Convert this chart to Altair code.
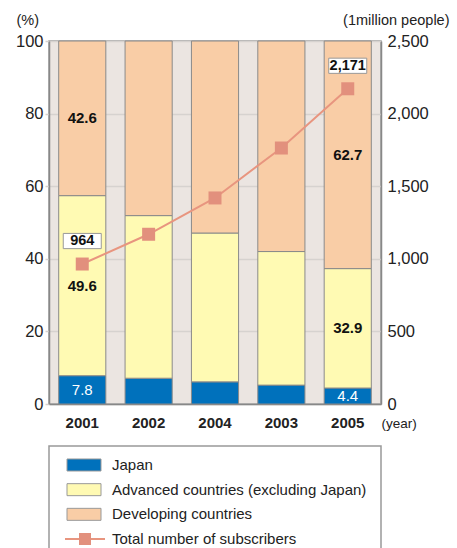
import altair as alt
import pandas as pd

years = ["2001", "2002", "2004", "2003", "2005"]
categories = ["Japan", "Advanced countries (excluding Japan)", "Developing countries"]
japan = [7.8, 7.1, 6.1, 5.2, 4.4]
advanced = [49.6, 44.8, 41.0, 36.8, 32.9]
developing = [42.6, 48.1, 52.9, 58.0, 62.7]
subscribers = [964, 1169, 1419, 1763, 2171]
labeled_years = ["2001", "2005"]
legend_items = categories + ["Total number of subscribers"]
legend_kinds = ["rect", "rect", "rect", "line"]

colors = ["#0071bc", "#fffab3", "#f9cda6"]
line_color = "#e8957f"
marker_color = "#e2907d"
FONT = "Liberation Sans"
W, H = 332, 363

rows = []
for i, yr in enumerate(years):
    for k, (cat, vals) in enumerate(zip(categories, [japan, advanced, developing])):
        rows.append({"year": yr, "category": cat, "value": vals[i], "order": k,
                     "show": yr in labeled_years})
bars_df = pd.DataFrame(rows)
line_df = pd.DataFrame({"year": years, "subscribers": subscribers,
                        "show": [y in labeled_years for y in years]})
leg_df = pd.DataFrame({"item": legend_items, "kind": legend_kinds})

xenc = alt.X("year:N", sort=years,
             scale=alt.Scale(paddingInner=0.29, paddingOuter=0.146),
             axis=alt.Axis(title="(year)", titleX=332, titleY=19, titleAlign="left",
                           titleBaseline="middle", titleAngle=0, titleFontWeight="normal",
                           titleFontSize=13.5, labelAngle=0, labelFontWeight="bold",
                           labelFontSize=15, labelPadding=11, ticks=False,
                           domainColor="#888888", domainWidth=1.5,
                           labelColor="#222222", titleColor="#222222"))

yleft_axis = alt.Axis(values=[0, 20, 40, 60, 80, 100], grid=True, gridColor="#d6d2cf",
                      gridWidth=1.5, tickColor="#d6d2cf", tickSize=4, tickWidth=1.5,
                      labelPadding=2, labelFontSize=16.5, labelColor="#222222",
                      domainColor="#888888", domainWidth=1.5,
                      title="(%)", titleX=-33, titleY=-21, titleAlign="left",
                      titleAngle=0, titleBaseline="middle", titleFontWeight="normal",
                      titleFontSize=14.5, titleColor="#222222")

bars = alt.Chart(bars_df).mark_bar(stroke="#8a8a8a", strokeWidth=1).encode(
    x=xenc,
    y=alt.Y("value:Q", stack="zero", scale=alt.Scale(domain=[0, 100]), axis=yleft_axis),
    color=alt.Color("category:N", scale=alt.Scale(domain=categories, range=colors), legend=None),
    order=alt.Order("order:Q"),
)

stacked = alt.Chart(bars_df).transform_stack(
    stack="value", groupby=["year"], as_=["y0", "y1"], sort=[alt.SortField("order")]
).transform_calculate(mid="(datum.y0 + datum.y1) / 2").transform_filter("datum.show")

text_white = stacked.transform_filter("datum.order == 0").mark_text(
    font=FONT, fontSize=15, color="white").encode(
    x=alt.X("year:N", sort=years), y=alt.Y("mid:Q"), text=alt.Text("value:Q", format=".1f"))
text_black = stacked.transform_filter("datum.order > 0").mark_text(
    font=FONT, fontSize=15, fontWeight="bold", color="#111111").encode(
    x=alt.X("year:N", sort=years), y=alt.Y("mid:Q"), text=alt.Text("value:Q", format=".1f"))

left = alt.layer(bars, text_white, text_black)

yright = alt.Y("subscribers:Q", scale=alt.Scale(domain=[0, 2500]),
               axis=alt.Axis(orient="right", values=[0, 500, 1000, 1500, 2000, 2500],
                             format=",.0f", formatType="number", grid=False, ticks=False,
                             labelPadding=6,
                             labelFontSize=16.5, labelColor="#222222",
                             domainColor="#888888", domainWidth=1.5,
                             title="(1million people)", titleX=68, titleY=-21,
                             titleAlign="right", titleAngle=0, titleBaseline="middle",
                             titleFontWeight="normal", titleFontSize=14.5,
                             titleColor="#222222"))

line = alt.Chart(line_df).mark_line(color=line_color, strokeWidth=2).encode(
    x=alt.X("year:N", sort=years), y=yright)
squares = alt.Chart(line_df).mark_square(size=169, color=marker_color, opacity=1).encode(
    x=alt.X("year:N", sort=years), y=yright)
boxes = alt.Chart(line_df).transform_filter("datum.show").mark_point(
    shape="M-1,-0.4H1V0.4H-1Z", size=1444, filled=True, fill="white",
    stroke="#999999", strokeWidth=1, opacity=1, yOffset=-23).encode(
    x=alt.X("year:N", sort=years), y=yright)
box_text = alt.Chart(line_df).transform_filter("datum.show").mark_text(
    font=FONT, fontSize=14.5, fontWeight="bold", color="#111111", yOffset=-23).encode(
    x=alt.X("year:N", sort=years), y=yright,
    text=alt.Text("subscribers:Q", format=",.0f"))

right = alt.layer(line, squares, boxes, box_text)

main = alt.layer(left, right).resolve_scale(y="independent").properties(
    width=W, height=H,
    view=alt.ViewBackground(fill="#ebe5e1", stroke="#999999", strokeWidth=1.5))

ly = alt.Y("item:N", sort=legend_items,
           scale=alt.Scale(type="point", range=[19, 93], padding=0), axis=None)
leg_rect = alt.Chart(leg_df).transform_filter("datum.kind == 'rect'").mark_point(
    shape="M-1,-0.353H1V0.353H-1Z", size=1156, filled=True, stroke="#999999",
    strokeWidth=1, opacity=1).encode(
    x=alt.value(35), y=ly,
    fill=alt.Fill("item:N", scale=alt.Scale(domain=categories, range=colors), legend=None))
leg_line = alt.Chart(leg_df).transform_filter("datum.kind == 'line'").mark_rule(
    color=line_color, strokeWidth=2).encode(x=alt.value(16), x2=alt.value(56), y=ly)
leg_sq = alt.Chart(leg_df).transform_filter("datum.kind == 'line'").mark_square(
    size=144, color=marker_color, opacity=1).encode(x=alt.value(36), y=ly)
leg_text = alt.Chart(leg_df).mark_text(
    font=FONT, fontSize=15, align="left", baseline="middle", color="#222222").encode(
    x=alt.value(63), y=ly, text="item:N")

legend = alt.layer(leg_rect, leg_line, leg_sq, leg_text).properties(
    width=W, height=112,
    view=alt.ViewBackground(fill="white", stroke="#999999", strokeWidth=1.5))

chart = alt.vconcat(main, legend, spacing=14).properties(
    padding={"left": 14, "top": 11, "right": 0, "bottom": 0}
).configure(font=FONT).configure_axis(labelFont=FONT, titleFont=FONT)

chart.save("out.html", embed_options={"renderer": "svg", "actions": False})
